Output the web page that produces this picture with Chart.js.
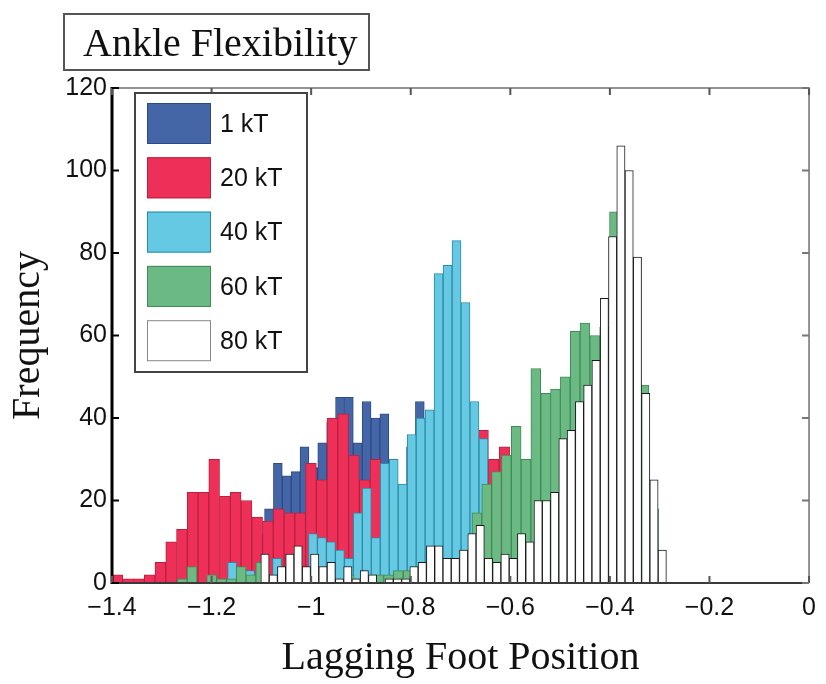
<!DOCTYPE html>
<html>
<head>
<meta charset="utf-8">
<title>Ankle Flexibility</title>
<script src="https://cdn.jsdelivr.net/npm/chart.js@4.4.1/dist/chart.umd.min.js"></script>
<style>
  html, body { margin: 0; padding: 0; background: #fff; }
  #wrap { width: 826px; height: 684px; }
</style>
</head>
<body>
<div id="wrap"><canvas id="ankleChart" width="826" height="684"></canvas></div>
<script>
// histogram bins (centres) and counts, one set per load level
const seriesLabels = ['1 kT', '20 kT', '40 kT', '60 kT', '80 kT'];

const bins1kT = [-1.1560, -1.1381, -1.1203, -1.1025, -1.0847, -1.0669, -1.0490, -1.0312, -1.0134,
    -0.9956, -0.9778, -0.9599, -0.9421, -0.9243, -0.9065, -0.8887, -0.8708, -0.8530, -0.8352,
    -0.8174, -0.7996, -0.7817, -0.7639, -0.7461, -0.7283, -0.7105, -0.6926];
const counts1kT = [3, 6, 11, 12, 18, 29, 26, 27, 33, 28, 34, 39, 45, 45, 34, 44, 40, 41, 28,
    22, 33, 44, 30, 22, 12, 6, 2];

const bins20kT = [-1.3892, -1.3676, -1.3460, -1.3244, -1.3028, -1.2812, -1.2596, -1.2380, -1.2164,
    -1.1948, -1.1732, -1.1516, -1.1300, -1.1084, -1.0868, -1.0652, -1.0436, -1.0220, -1.0004,
    -0.9788, -0.9572, -0.9356, -0.9140, -0.8924, -0.8708, -0.8492, -0.8276, -0.8060, -0.7844,
    -0.7628, -0.7412, -0.7196, -0.6980, -0.6764, -0.6548, -0.6332, -0.6116];
const counts20kT = [2, 1, 1, 2, 5, 10, 13, 22, 22, 30, 21, 22, 20, 16, 15, 18, 17, 17, 29,
    25, 40, 41, 31, 25, 30, 27, 22, 20, 30, 32, 34, 35, 36, 38, 37, 30, 33];

const bins40kT = [-1.1587, -1.1407, -1.1226, -1.1046, -1.0866, -1.0686, -1.0505, -1.0325, -1.0145,
    -0.9964, -0.9784, -0.9604, -0.9424, -0.9243, -0.9063, -0.8883, -0.8703, -0.8522, -0.8342,
    -0.8162, -0.7981, -0.7801, -0.7621, -0.7441, -0.7260, -0.7080, -0.6900, -0.6720, -0.6539,
    -0.6359];
const counts40kT = [5, 2, 3, 1, 2, 6, 4, 3, 2, 12, 11, 10, 8, 6, 17, 23, 11, 29, 30,
    24, 36, 40, 42, 75, 77, 83, 68, 44, 35, 4];

const bins60kT = [-1.2590, -1.2392, -1.2195, -1.1998, -1.1801, -1.1603, -1.1406, -1.1209, -1.1011,
    -1.0814, -1.0617, -1.0420, -1.0222, -1.0025, -0.9828, -0.9631, -0.9433, -0.9236, -0.9039,
    -0.8841, -0.8644, -0.8447, -0.8250, -0.8052, -0.7855, -0.7658, -0.7460, -0.7263, -0.7066,
    -0.6869, -0.6671, -0.6474, -0.6277, -0.6079, -0.5882, -0.5685, -0.5488, -0.5290, -0.5093,
    -0.4896, -0.4698, -0.4501, -0.4304, -0.4107, -0.3909, -0.3712, -0.3515, -0.3317, -0.3120,
    -0.2923];
const counts60kT = [1, 4, 0, 2, 1, 1, 4, 2, 5, 1, 2, 1, 2, 1, 1, 2, 1, 2, 1,
    1, 2, 2, 3, 3, 2, 3, 4, 3, 5, 8, 17, 24, 27, 31, 38, 30, 52, 46, 47,
    50, 61, 63, 60, 62, 90, 75, 60, 48, 18, 0];

const bins80kT = [-1.0927, -1.0760, -1.0594, -1.0428, -1.0262, -1.0096, -0.9929, -0.9763, -0.9597,
    -0.9431, -0.9264, -0.9098, -0.8932, -0.8766, -0.8600, -0.8433, -0.8267, -0.8101, -0.7935,
    -0.7768, -0.7602, -0.7436, -0.7270, -0.7104, -0.6937, -0.6771, -0.6605, -0.6439, -0.6272,
    -0.6106, -0.5940, -0.5774, -0.5607, -0.5441, -0.5275, -0.5109, -0.4943, -0.4776, -0.4610,
    -0.4444, -0.4278, -0.4111, -0.3945, -0.3779, -0.3613, -0.3447, -0.3280, -0.3114, -0.2948];
const counts80kT = [7, 2, 4, 7, 9, 4, 7, 4, 5, 1, 4, 1, 3, 2, 0, 1, 1, 1, 4,
    5, 9, 9, 6, 6, 8, 12, 14, 6, 5, 7, 6, 12, 10, 20, 20, 22, 35, 37, 44,
    48, 54, 69, 84, 106, 100, 79, 46, 25, 8];

const xTicks = [-1.4, -1.2, -1, -0.8, -0.6, -0.4, -0.2, 0];
const xTickLabels = ['\u22121.4', '\u22121.2', '\u22121', '\u22120.8', '\u22120.6', '\u22120.4', '\u22120.2', '0'];
const yTicks = [0, 20, 40, 60, 80, 100, 120];
const yTickLabels = ['0', '20', '40', '60', '80', '100', '120'];

const fills = ['#4566a6', '#ee3058', '#66c9e4', '#6bba84', '#ffffff'];
const edges = ['#2c4a85', '#b8213f', '#2b8aa6', '#3f8a57', '#1a1a1a'];

const allBins = [bins1kT, bins20kT, bins40kT, bins60kT, bins80kT];
const allCounts = [counts1kT, counts20kT, counts40kT, counts60kT, counts80kT];
// each series has its own bin width, so each gets its own (hidden) x axis
const axisIds = ['x', 'x1', 'x2', 'x3', 'x4'];

const datasets = seriesLabels.map((label, s) => ({
    label: label,
    data: allBins[s].map((b, i) => ({ x: b, y: allCounts[s][i] })),
    xAxisID: axisIds[s],
    backgroundColor: fills[s],
    borderColor: edges[s],
    borderWidth: 1,
    barPercentage: 1,
    categoryPercentage: 1,
    grouped: false,
    order: seriesLabels.length - s   // later series drawn on top
}));

const hiddenX = { type: 'linear', min: -1.4, max: 0, offset: false, display: false };

// box, inward ticks, title box and legend
const decorations = {
    id: 'decorations',
    afterDraw(chart) {
        const { ctx, chartArea: a, scales } = chart;
        ctx.save();

        ctx.strokeStyle = '#707070';
        ctx.lineWidth = 1.5;
        ctx.beginPath();
        ctx.moveTo(a.left, a.top);
        ctx.lineTo(a.right, a.top);
        ctx.lineTo(a.right, a.bottom);
        ctx.stroke();

        ctx.strokeStyle = '#3a3a3a';
        ctx.lineWidth = 2;
        ctx.beginPath();
        ctx.moveTo(a.left, a.bottom);
        ctx.lineTo(a.right, a.bottom);
        ctx.stroke();

        ctx.strokeStyle = '#000';
        ctx.lineWidth = 3;
        ctx.beginPath();
        ctx.moveTo(a.left, a.top - 1);
        ctx.lineTo(a.left, a.bottom + 1);
        ctx.stroke();

        ctx.lineWidth = 2;
        xTicks.forEach(v => {
            const px = scales.x.getPixelForValue(v);
            ctx.strokeStyle = '#555';
            ctx.beginPath();
            ctx.moveTo(px, a.bottom); ctx.lineTo(px, a.bottom - 7);
            ctx.moveTo(px, a.top); ctx.lineTo(px, a.top + 7);
            ctx.stroke();
        });
        yTicks.forEach(v => {
            const py = scales.y.getPixelForValue(v);
            ctx.strokeStyle = '#000';
            ctx.beginPath();
            ctx.moveTo(a.left, py); ctx.lineTo(a.left + 7, py);
            ctx.stroke();
            ctx.strokeStyle = '#777';
            ctx.beginPath();
            ctx.moveTo(a.right, py); ctx.lineTo(a.right - 7, py);
            ctx.stroke();
        });

        // title box
        ctx.fillStyle = '#fff';
        ctx.fillRect(64, 14, 305, 56);
        ctx.strokeStyle = '#555';
        ctx.lineWidth = 2;
        ctx.strokeRect(64, 14, 305, 56);
        ctx.fillStyle = '#111';
        ctx.font = '40px "Liberation Serif", "Times New Roman", serif';
        ctx.textBaseline = 'alphabetic';
        ctx.textAlign = 'left';
        ctx.fillText('Ankle Flexibility', 83, 56);

        // legend
        ctx.fillStyle = '#fff';
        ctx.fillRect(135, 93, 172, 279);
        ctx.strokeStyle = '#444';
        ctx.lineWidth = 2;
        ctx.strokeRect(135, 93, 172, 279);
        ctx.font = '25px "Liberation Sans", Arial, sans-serif';
        ctx.textBaseline = 'middle';
        chart.data.datasets.forEach((ds, i) => {
            const top = 103 + i * 54.3;
            ctx.fillStyle = ds.backgroundColor;
            ctx.fillRect(147, top, 64, 41);
            ctx.strokeStyle = i === 4 ? '#888' : ds.borderColor;
            ctx.lineWidth = 1;
            ctx.strokeRect(147.5, top + 0.5, 63, 40);
            ctx.fillStyle = '#111';
            ctx.fillText(ds.label, 220, top + 22);
        });

        ctx.restore();
    }
};

new Chart(document.getElementById('ankleChart'), {
    type: 'bar',
    data: { datasets: datasets },
    options: {
        responsive: false,
        animation: false,
        layout: { padding: { top: 88, right: 15, left: 0, bottom: 0 } },
        plugins: {
            legend: { display: false },
            tooltip: { enabled: false }
        },
        scales: {
            x: {
                type: 'linear',
                min: -1.4,
                max: 0,
                offset: false,
                position: 'bottom',
                afterBuildTicks: scale => { scale.ticks = xTicks.map(v => ({ value: v })); },
                afterFit: scale => { scale.height = 101; },
                ticks: {
                    padding: 10,
                    maxRotation: 0,
                    autoSkip: false,
                    color: '#111',
                    font: { family: '"Liberation Sans", Arial, sans-serif', size: 25 },
                    callback: (value, index) => xTickLabels[index]
                },
                grid: { display: false, drawTicks: false, offset: false },
                border: { display: false },
                title: {
                    display: true,
                    text: 'Lagging Foot Position',
                    color: '#111',
                    font: { family: '"Liberation Serif", "Times New Roman", serif', size: 40 },
                    padding: { top: 0, bottom: 2 }
                }
            },
            x1: hiddenX,
            x2: hiddenX,
            x3: hiddenX,
            x4: hiddenX,
            y: {
                min: 0,
                max: 120,
                afterBuildTicks: scale => { scale.ticks = yTicks.map(v => ({ value: v })); },
                afterFit: scale => { scale.width = 112; },
                ticks: {
                    padding: 5,
                    autoSkip: false,
                    color: '#111',
                    font: { family: '"Liberation Sans", Arial, sans-serif', size: 25 },
                    callback: (value, index) => yTickLabels[index]
                },
                grid: { display: false, drawTicks: false },
                border: { display: false },
                title: {
                    display: true,
                    text: 'Frequency',
                    color: '#111',
                    font: { family: '"Liberation Serif", "Times New Roman", serif', size: 40 },
                    padding: { top: 4, bottom: 0 }
                }
            }
        }
    },
    plugins: [decorations]
});
</script>
</body>
</html>
